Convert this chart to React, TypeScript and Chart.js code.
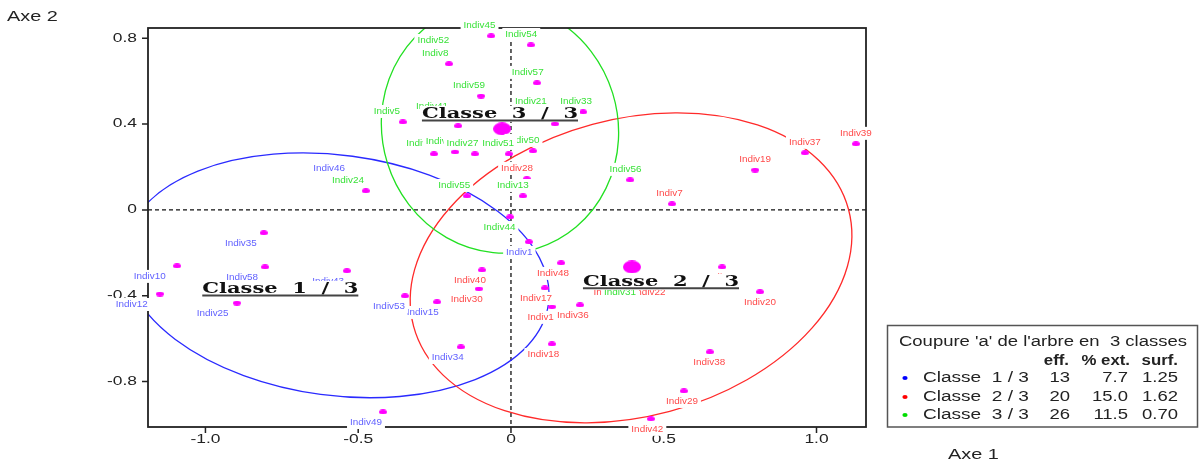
import React, { useEffect, useRef } from 'react';
import { Chart, registerables } from 'chart.js';

Chart.register(...registerables);

// ---- axes ----
const xMin = -1.188;
const xMax = 1.162;
const yMin = -1.012;
const yMax = 0.848;
const xTicks = [-1.0, -0.5, 0, 0.5, 1.0];
const xTickLabels = ['-1.0', '-0.5', '0', '0.5', '1.0'];
const yTicks = [0.8, 0.4, 0, -0.4, -0.8];
const yTickLabels = ['0.8', '0.4', '0', '-0.4', '-0.8'];
const xAxisTitle = 'Axe 1';
const yAxisTitle = 'Axe 2';

// ---- class 1 (blue) ----
const class1Names = ['Indiv1', 'Indiv10', 'Indiv12', 'Indiv15', 'Indiv25', 'Indiv34', 'Indiv35', 'Indiv43', 'Indiv46', 'Indiv49', 'Indiv53', 'Indiv58'];
const class1X = [0.059, -1.093, -1.149, -0.242, -0.897, -0.164, -0.809, -0.537, -0.534, -0.419, -0.347, -0.805];
const class1Y = [-0.149, -0.261, -0.392, -0.429, -0.434, -0.639, -0.107, -0.284, 0.145, -0.942, -0.401, -0.266];

// ---- class 2 (red) ----
const class2Names = ['Indiv3', 'Indiv7', 'Indiv14', 'Indiv17', 'Indiv18', 'Indiv19', 'Indiv20', 'Indiv22', 'Indiv23', 'Indiv28', 'Indiv29', 'Indiv30', 'Indiv36', 'Indiv37', 'Indiv38', 'Indiv39', 'Indiv40', 'Indiv42', 'Indiv48'];
const class2X = [0.331, 0.527, 0.134, 0.111, 0.134, 0.799, 0.815, 0.465, 0.691, 0.052, 0.566, -0.105, 0.226, 0.962, 0.651, 1.129, -0.095, 0.458, 0.164];
const class2Y = [-0.336, 0.028, -0.452, -0.364, -0.625, 0.186, -0.382, -0.336, -0.266, 0.145, -0.844, -0.368, -0.443, 0.266, -0.662, 0.308, -0.28, -0.974, -0.247];

// ---- class 3 (green) ----
const class3Names = ['Indiv2', 'Indiv4', 'Indiv5', 'Indiv8', 'Indiv9', 'Indiv13', 'Indiv21', 'Indiv24', 'Indiv26', 'Indiv27', 'Indiv31', 'Indiv33', 'Indiv41', 'Indiv44', 'Indiv45', 'Indiv50', 'Indiv51', 'Indiv52', 'Indiv54', 'Indiv55', 'Indiv56', 'Indiv57', 'Indiv59'];
const class3X = [0.144, -0.173, -0.354, -0.203, -0.252, 0.039, 0.095, -0.475, -0.183, -0.118, 0.373, 0.236, -0.213, -0.003, -0.065, 0.072, -0.007, -0.209, 0.065, -0.144, 0.39, 0.085, -0.098];
const class3Y = [0.401, 0.392, 0.41, 0.681, 0.261, 0.065, 0.457, 0.089, 0.27, 0.261, -0.336, 0.457, 0.434, -0.033, 0.811, 0.275, 0.261, 0.741, 0.769, 0.065, 0.14, 0.592, 0.531];

// ---- class centroids and labels ----
const centroidX = [-0.74, 0.396, -0.029];
const centroidY = [-0.364, -0.266, 0.378];
const classPlotLabels = ['Classe  1  /  3', 'Classe  2  /  3', 'Classe  3  /  3'];
const classLabelX = [-0.755, 0.491, -0.036];
const classLabelY = [-0.387, -0.354, 0.429];

// ---- class ellipses (data units, rotation in radians) ----
const ellipseCx = [-0.571, 0.393, -0.036];
const ellipseCy = [-0.305, -0.27, 0.382];
const ellipseRx = [0.7, 0.737, 0.386];
const ellipseRy = [0.56, 0.693, 0.587];
const ellipseRot = [0.133, -0.263, -0.3];

// ---- legend table ----
const legendTitle = "Coupure 'a' de l'arbre en  3 classes";
const legendHeaders = ['eff.', '% ext.', 'surf.'];
const classNames = ['Classe  1 / 3', 'Classe  2 / 3', 'Classe  3 / 3'];
const classEff = ['13', '20', '26'];
const classPctExt = ['7.7', '15.0', '11.5'];
const classSurf = ['1.25', '1.62', '0.70'];

// ---- styles ----
const SANS = '"Liberation Sans", Arial, sans-serif';
const SERIF = '"DejaVu Serif", serif';
const ellipseColors = ['#2a2aff', '#ff2a2a', '#22e022'];
const labelColors = ['#6262ff', '#ff4a4a', '#3ae23a'];
const legendDotColors = ['#0000ff', '#ff0000', '#00dd00'];
const POINT_COLOR = '#ff00ff';

type Align = 'left' | 'center' | 'right';

function drawText(
  ctx: CanvasRenderingContext2D,
  s: string,
  x: number,
  y: number,
  font: string,
  color: string,
  align: Align,
  k: number,
  baseline: CanvasTextBaseline = 'middle'
): number {
  ctx.save();
  ctx.font = font;
  const w = ctx.measureText(s).width * k;
  const left = align === 'left' ? x : align === 'right' ? x - w : x - w / 2;
  ctx.translate(left, y);
  ctx.scale(k, 1);
  ctx.textAlign = 'left';
  ctx.textBaseline = baseline;
  ctx.fillStyle = color;
  ctx.fillText(s, 0, 0);
  ctx.restore();
  return w;
}

function textWidth(ctx: CanvasRenderingContext2D, s: string, font: string, k: number) {
  ctx.save();
  ctx.font = font;
  const w = ctx.measureText(s).width * k;
  ctx.restore();
  return w;
}

function dotImage(w: number, h: number, color: string) {
  const c = document.createElement('canvas');
  c.width = w;
  c.height = h;
  const g = c.getContext('2d')!;
  g.fillStyle = color;
  g.beginPath();
  g.ellipse(w / 2, h / 2, w / 2, h / 2, 0, 0, Math.PI * 2);
  g.fill();
  return c;
}

const classes = [
  { names: class1Names, xs: class1X, ys: class1Y },
  { names: class2Names, xs: class2X, ys: class2Y },
  { names: class3Names, xs: class3X, ys: class3Y },
];

const drawPlugin = {
  id: 'factorMap',
  beforeDatasetsDraw(chart: any) {
    const { ctx, chartArea: a, scales } = chart;
    const xs = scales.x;
    const ys = scales.y;
    const pxPerX = Math.abs(xs.getPixelForValue(1) - xs.getPixelForValue(0));
    const pxPerY = Math.abs(ys.getPixelForValue(1) - ys.getPixelForValue(0));

    // dashed zero lines
    ctx.save();
    ctx.strokeStyle = '#111';
    ctx.lineWidth = 1.3;
    ctx.setLineDash([4, 3]);
    const x0 = xs.getPixelForValue(0);
    const y0 = ys.getPixelForValue(0);
    ctx.beginPath();
    ctx.moveTo(a.left, y0);
    ctx.lineTo(a.right, y0);
    ctx.moveTo(x0, a.top);
    ctx.lineTo(x0, a.bottom);
    ctx.stroke();
    ctx.restore();

    // ellipses
    ctx.save();
    ctx.beginPath();
    ctx.rect(a.left, a.top, a.right - a.left, a.bottom - a.top);
    ctx.clip();
    ctx.lineWidth = 1.3;
    for (let i = 0; i < ellipseCx.length; i++) {
      ctx.strokeStyle = ellipseColors[i];
      ctx.beginPath();
      ctx.ellipse(
        xs.getPixelForValue(ellipseCx[i]),
        ys.getPixelForValue(ellipseCy[i]),
        ellipseRx[i] * pxPerX,
        ellipseRy[i] * pxPerY,
        ellipseRot[i],
        0,
        Math.PI * 2
      );
      ctx.stroke();
    }
    ctx.restore();

    // frame
    ctx.save();
    ctx.strokeStyle = '#222';
    ctx.lineWidth = 1.8;
    ctx.strokeRect(a.left, a.top, a.right - a.left, a.bottom - a.top);
    // ticks
    ctx.lineWidth = 1.5;
    ctx.beginPath();
    xTicks.forEach((v) => {
      const p = xs.getPixelForValue(v);
      ctx.moveTo(p, a.bottom);
      ctx.lineTo(p, a.bottom + 6);
    });
    yTicks.forEach((v) => {
      const p = ys.getPixelForValue(v);
      ctx.moveTo(a.left - 6, p);
      ctx.lineTo(a.left, p);
    });
    ctx.stroke();
    ctx.restore();

    const tickFont = `12px ${SANS}`;
    xTicks.forEach((v, i) => {
      drawText(ctx, xTickLabels[i], xs.getPixelForValue(v), a.bottom + 13, tickFont, '#222', 'center', 1.45);
    });
    yTicks.forEach((v, i) => {
      drawText(ctx, yTickLabels[i], a.left - 11, ys.getPixelForValue(v), tickFont, '#222', 'right', 1.45);
    });

    const titleFont = `14px ${SANS}`;
    drawText(ctx, yAxisTitle, 7, 17, titleFont, '#222', 'left', 1.42);
    drawText(ctx, xAxisTitle, 948, 455, titleFont, '#222', 'left', 1.42);
  },
  afterDatasetsDraw(chart: any) {
    const { ctx, chartArea: a, scales } = chart;
    const xs = scales.x;
    const ys = scales.y;

    // individual labels, drawn in order of individual number
    const items: { n: number; name: string; x: number; y: number; c: number }[] = [];
    classes.forEach((cl, c) => {
      cl.names.forEach((name, i) => {
        items.push({ n: parseInt(name.replace('Indiv', ''), 10), name, x: cl.xs[i], y: cl.ys[i], c });
      });
    });
    items.sort((p, q) => p.n - q.n);
    const labFont = `9px ${SANS}`;
    const labK = 1.1;
    const shiftRef = a.left + (a.right - a.left) * 0.8;
    items.forEach((it) => {
      const px = xs.getPixelForValue(it.x);
      const py = ys.getPixelForValue(it.y);
      const lx = px + Math.min(0, (px - shiftRef) * 0.05);
      const ly = py + (it.y >= 0 ? -10.5 : 10.5);
      const w = textWidth(ctx, it.name, labFont, labK);
      ctx.fillStyle = '#ffffff';
      ctx.fillRect(lx - w / 2 - 3, ly - 6.5, w + 6, 13);
      drawText(ctx, it.name, lx, ly, labFont, labelColors[it.c], 'center', labK);
    });

    // class labels
    const clFont = `bold 15px ${SERIF}`;
    const clK = 1.4;
    classPlotLabels.forEach((s, i) => {
      const cx = xs.getPixelForValue(classLabelX[i]);
      const by = ys.getPixelForValue(classLabelY[i]);
      const w = textWidth(ctx, s, clFont, clK);
      ctx.fillStyle = '#ffffff';
      ctx.fillRect(cx - w / 2 - 2, by - 12, w + 4, 16);
      drawText(ctx, s, cx, by, clFont, '#111', 'center', clK, 'alphabetic');
      ctx.save();
      ctx.strokeStyle = '#444';
      ctx.lineWidth = 2;
      ctx.beginPath();
      ctx.moveTo(cx - w / 2, by + 2.5);
      ctx.lineTo(cx + w / 2, by + 2.5);
      ctx.stroke();
      ctx.restore();
    });

    // legend box
    const L = 887;
    const T = 325;
    ctx.save();
    ctx.strokeStyle = '#555';
    ctx.lineWidth = 1.5;
    ctx.strokeRect(L + 0.5, T + 0.5, 310, 101.5);
    ctx.restore();
    const lf = `14px ${SANS}`;
    const lfb = `bold 14px ${SANS}`;
    const lk = 1.32;
    drawText(ctx, legendTitle, L + 12, T + 17, lf, '#222', 'left', lk);
    const headerRight = [L + 182, L + 243, L + 291];
    legendHeaders.forEach((h, i) => drawText(ctx, h, headerRight[i], T + 36, lfb, '#222', 'right', 1.2));
    const rowY = [T + 53, T + 72, T + 90];
    classNames.forEach((s, i) => {
      ctx.fillStyle = legendDotColors[i];
      ctx.beginPath();
      ctx.ellipse(L + 18, rowY[i], 2.6, 2, 0, 0, Math.PI * 2);
      ctx.fill();
      drawText(ctx, s, L + 36, rowY[i], lf, '#222', 'left', 1.36);
      drawText(ctx, classEff[i], L + 183, rowY[i], lf, '#222', 'right', lk);
      drawText(ctx, classPctExt[i], L + 241, rowY[i], lf, '#222', 'right', lk);
      drawText(ctx, classSurf[i], L + 291, rowY[i], lf, '#222', 'right', lk);
    });
  },
};

export default function App() {
  const ref = useRef<HTMLCanvasElement>(null);
  useEffect(() => {
    if (!ref.current) return;
    const small = dotImage(8, 5, POINT_COLOR);
    const big = dotImage(18, 13, POINT_COLOR);
    const datasets: any[] = classes.map((cl) => ({
      type: 'scatter',
      data: cl.names.map((_, i) => ({ x: cl.xs[i], y: cl.ys[i] })),
      pointStyle: small,
      pointRadius: 3,
    }));
    datasets.push({
      type: 'scatter',
      data: centroidX.map((x, i) => ({ x, y: centroidY[i] })),
      pointStyle: big,
      pointRadius: 8,
    });
    const chart = new Chart(ref.current, {
      type: 'scatter',
      data: { datasets },
      options: {
        animation: false,
        responsive: false,
        devicePixelRatio: 1,
        layout: { padding: { left: 148, top: 28, right: 333, bottom: 36 } },
        plugins: { legend: { display: false }, tooltip: { enabled: false } },
        scales: {
          x: { type: 'linear', display: false, min: xMin, max: xMax },
          y: { type: 'linear', display: false, min: yMin, max: yMax },
        },
      },
      plugins: [drawPlugin],
    } as any);
    return () => chart.destroy();
  }, []);
  return (
    <div style={{ position: 'fixed', left: 0, top: 0, width: 1199, height: 463, background: '#fff' }}>
      <canvas ref={ref} width={1199} height={463} style={{ display: 'block' }} />
    </div>
  );
}
